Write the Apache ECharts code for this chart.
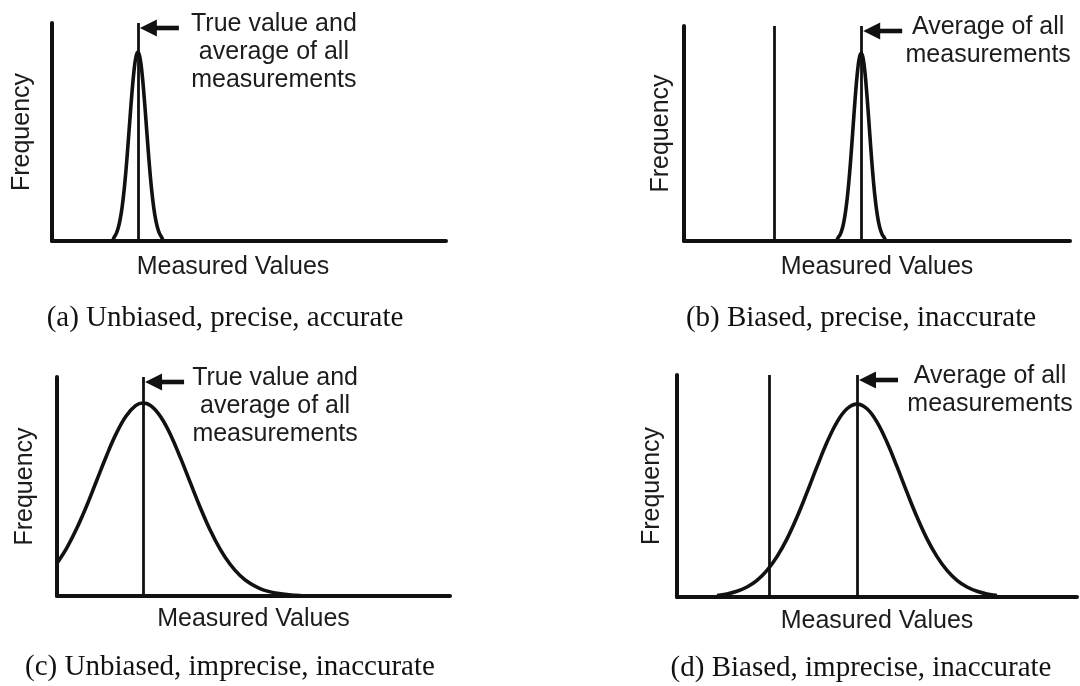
<!DOCTYPE html>
<html>
<head>
<meta charset="utf-8">
<title>Bias and precision of measurements</title>
<script src="https://cdn.jsdelivr.net/npm/echarts@6/dist/echarts.min.js"></script>
<style>
  html, body { margin: 0; padding: 0; background: #ffffff; }
  #chart { width: 1080px; height: 686px; }
</style>
</head>
<body>
<div id="chart"></div>
<script>
// Frequency curves of the measured values (x: measured value, y: frequency), one per panel.
const curveAX = [15.4, 15.8, 16.3, 16.8, 17.3, 17.8, 18.3, 18.8, 19.3, 19.8, 20.3, 20.8, 21.3, 21.8,
                 22.3, 22.8, 23.3, 23.8, 24.3, 24.8, 25.3, 25.8, 26.3, 26.8, 27.3, 27.8, 28.2];
const curveAY = [0, 1.8, 3.4, 6.0, 9.9, 15.6, 23.3, 33.0, 44.4, 56.5, 68.1, 77.9, 84.4, 86.7,
                 84.4, 77.9, 68.1, 56.5, 44.4, 33.0, 23.3, 15.6, 9.9, 6.0, 3.4, 1.8, 0];

const curveBX = [39.5, 39.9, 40.4, 40.9, 41.4, 41.9, 42.4, 42.9, 43.4, 43.9, 44.4, 44.9, 45.4, 45.9,
                 46.4, 46.9, 47.4, 47.9, 48.4, 48.9, 49.4, 49.9, 50.4, 50.9, 51.4, 51.9, 52.3];
const curveBY = [0, 1.5, 2.8, 5.1, 8.8, 14.3, 21.8, 31.5, 43.0, 55.5, 67.7, 78.0, 85.0, 87.4,
                 85.0, 78.0, 67.7, 55.5, 43.0, 31.5, 21.8, 14.3, 8.8, 5.1, 2.8, 1.5, 0];

const curveCX = [0, 2.5, 5, 7.5, 10, 12.5, 15, 17.5, 20, 21.9, 24, 26.5, 29, 31.5, 34, 36.5,
                 39, 41.5, 44, 46.5, 49, 51.5, 54, 56.5, 59, 62];
const curveCY = [15.0, 22.0, 30.8, 41.0, 52.3, 63.6, 73.9, 82.0, 86.9, 88.1, 86.7, 81.5, 73.2, 62.7, 51.4, 40.2,
                 30.0, 21.4, 14.6, 9.5, 5.9, 3.5, 2.0, 1.1, 0.6, 0.2];

const curveDX = [10, 12.5, 15, 17.5, 20, 22.5, 25, 27.5, 30, 32.5, 35, 37.5, 40, 42.5, 45,
                 47.5, 50, 52.5, 55, 57.5, 60, 62.5, 65, 67.5, 70, 72.5, 75, 77.5, 80];
const curveDY = [0.7, 1.4, 2.6, 4.5, 7.5, 12.0, 18.2, 26.2, 36.0, 47.1, 58.7, 69.7, 78.8, 84.8, 86.9,
                 84.8, 78.8, 69.7, 58.7, 47.1, 36.0, 26.2, 18.2, 12.0, 7.5, 4.5, 2.6, 1.4, 0.7];

// True value and average of all measurements for panels a-d.
const trueValues = [21.8, 23.3, 21.9, 23.0];
const averageValues = [21.8, 45.9, 21.9, 45.0];

// Texts.
const annotationTexts = [
  'True value and\naverage of all\nmeasurements',
  'Average of all\nmeasurements',
  'True value and\naverage of all\nmeasurements',
  'Average of all\nmeasurements'
];
const captions = [
  '(a) Unbiased, precise, accurate',
  '(b) Biased, precise, inaccurate',
  '(c) Unbiased, imprecise, inaccurate',
  '(d) Biased, imprecise, inaccurate'
];
const xAxisTitle = 'Measured Values';
const yAxisTitle = 'Frequency';

const curvesX = [curveAX, curveBX, curveCX, curveDX];
const curvesY = [curveAY, curveBY, curveCY, curveDY];

// Layout of each panel (pixels).
const layout = [
  { grid: { left: 52,  top: 23,  width: 394, height: 218 }, yGap: 17, xGap: 14, xShift: 32, textDx: 136, caption: [225, 318] },
  { grid: { left: 684, top: 26,  width: 386, height: 215 }, yGap: 10, xGap: 14, xShift: 0,  textDx: 127, caption: [861, 318] },
  { grid: { left: 57,  top: 377, width: 393, height: 219 }, yGap: 19, xGap: 11, xShift: 0,  textDx: 132, caption: [230, 667] },
  { grid: { left: 677, top: 375, width: 400, height: 222 }, yGap: 12, xGap: 12, xShift: 0,  textDx: 133, caption: [861, 668] }
];

const INK = '#111111';
const TEXT = '#1c1c1c';
const SANS = '"Liberation Sans", Arial, Helvetica, sans-serif';
const SERIF = '"Liberation Serif", "Times New Roman", serif';

const grids = [], xAxes = [], yAxes = [], series = [], graphics = [];

layout.forEach((p, i) => {
  grids.push(Object.assign({ containLabel: false }, p.grid));

  xAxes.push({
    type: 'value', gridIndex: i, min: 0, max: 100,
    name: xAxisTitle, nameLocation: 'middle', nameGap: p.xGap,
    nameTextStyle: { fontFamily: SANS, fontSize: 25, color: TEXT, verticalAlign: 'top',
                     padding: [0, p.xShift, 0, 0] },
    axisLine: { show: true, onZero: false, lineStyle: { color: INK, width: 4 } },
    axisTick: { show: false }, axisLabel: { show: false }, splitLine: { show: false }
  });
  yAxes.push({
    type: 'value', gridIndex: i, min: 0, max: 100,
    name: yAxisTitle, nameLocation: 'middle', nameGap: p.yGap, nameRotate: 90,
    nameTextStyle: { fontFamily: SANS, fontSize: 25, color: TEXT },
    axisLine: { show: true, onZero: false, lineStyle: { color: INK, width: 4 } },
    axisTick: { show: false }, axisLabel: { show: false }, splitLine: { show: false }
  });

  // Reference lines: true value and, when different, the average.
  const marks = [{ xAxis: trueValues[i] }];
  if (averageValues[i] !== trueValues[i]) marks.push({ xAxis: averageValues[i] });

  series.push({
    type: 'line', xAxisIndex: i, yAxisIndex: i,
    data: curvesX[i].map((x, k) => [x, curvesY[i][k]]),
    smooth: 0.4, showSymbol: false, silent: true,
    lineStyle: { color: INK, width: 3.6 },
    markLine: {
      silent: true, symbol: 'none', animation: false,
      label: { show: false },
      lineStyle: { color: INK, width: 2.8, type: 'solid' },
      emphasis: { disabled: true },
      data: marks
    },
    z: 3
  });

  // Arrow pointing at the average line, with its annotation.
  series.push({
    type: 'custom', xAxisIndex: i, yAxisIndex: i, clip: false, silent: true,
    data: [[averageValues[i], 100]],
    renderItem: (params, api) => {
      const top = api.coord([api.value(0), api.value(1)]);
      const tipX = top[0] + 2;
      const y = top[1] + 5;
      return {
        type: 'group',
        children: [
          { type: 'rect', shape: { x: tipX + 14, y: y - 2.3, width: 25, height: 4.6 }, style: { fill: INK } },
          { type: 'polygon', shape: { points: [[tipX, y], [tipX + 17, y - 8.5], [tipX + 17, y + 8.5]] }, style: { fill: INK } },
          {
            type: 'text',
            style: {
              text: annotationTexts[i],
              x: top[0] + p.textDx, y: top[1] - 13,
              align: 'center', verticalAlign: 'top',
              font: '25px ' + SANS, lineHeight: 28, fill: TEXT
            }
          }
        ]
      };
    },
    z: 4
  });

  graphics.push({
    type: 'text', x: p.caption[0], y: p.caption[1], silent: true,
    style: {
      text: captions[i], align: 'center', verticalAlign: 'middle',
      font: '29px ' + SERIF, fill: '#111111'
    }
  });
});

const chart = echarts.init(document.getElementById('chart'), null, { renderer: 'canvas' });
chart.setOption({
  backgroundColor: '#ffffff',
  animation: false,
  grid: grids,
  xAxis: xAxes,
  yAxis: yAxes,
  series: series,
  graphic: graphics
});
</script>
</body>
</html>
